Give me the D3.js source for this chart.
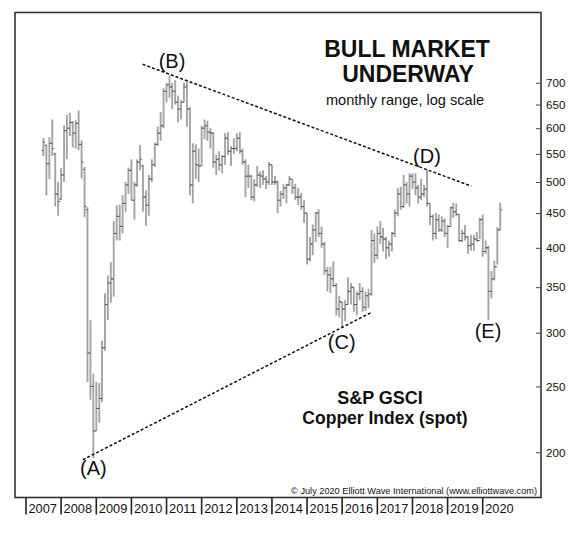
<!DOCTYPE html>
<html><head><meta charset="utf-8">
<script src="https://cdn.jsdelivr.net/npm/d3@7"></script>
<style>
body{margin:0;background:#fff}
svg{display:block}
text{font-family:"Liberation Sans",Arial,Helvetica,sans-serif;fill:#111}
</style>
</head><body>
<svg id="chart" width="586" height="544"></svg>
<script>
// ---- data (S&P GSCI Copper Index, monthly range, from Jul 2007) ----
const firstMonth = "2007-07";
const highs = [
  580,568,582,618,552,500,
  524,606,628,632,614,616,637,576,526,459,313,261,
  254,253,292,343,364,381,438,462,463,478,500,525,
  540,500,540,567,530,486,512,540,571,603,634,687,
  700,718,700,706,670,660,700,703,645,570,568,560,
  605,618,615,600,592,548,555,548,590,592,565,580,
  590,592,560,540,530,512,505,528,518,520,510,535,
  530,510,502,485,496,497,510,505,497,490,482,470,
  450,415,433,452,456,430,408,375,375,382,355,340,
  333,335,362,355,350,345,355,350,345,348,425,420,
  430,438,428,415,410,422,455,490,492,512,500,515,
  515,515,495,505,495,522,465,448,450,448,445,442,
  432,460,466,465,448,425,432,416,418,418,422,443,
  448,410,403,370,383,429,466
];
const lows = [
  546,478,505,546,460,446,
  470,500,540,584,562,560,557,506,444,254,239,196,
  215,221,237,282,313,332,339,410,410,420,452,480,
  470,440,492,520,452,431,446,500,526,565,575,600,
  655,665,640,650,612,618,655,603,478,465,505,500,
  528,578,575,560,525,512,520,515,530,548,528,550,
  555,550,530,475,490,470,468,492,490,495,488,495,
  495,495,450,460,472,465,493,480,470,462,455,435,
  378,382,390,408,415,400,365,345,343,350,318,316,
  305,312,330,330,322,318,335,322,323,326,340,380,
  385,405,395,385,388,395,415,445,455,458,465,460,
  488,478,465,470,475,460,432,410,412,422,422,415,
  400,430,443,445,408,408,410,392,396,396,408,412,
  388,392,313,337,358,378,424
];
const opens = [
  556,566,532,570,550,480,
  472,512,595,600,612,590,610,568,522,455,280,250,
  215,232,240,285,330,355,360,420,445,430,465,495,
  520,470,495,535,528,475,462,505,530,568,590,605,
  680,695,690,680,655,640,655,690,640,495,555,530,
  528,600,605,592,590,535,540,530,545,580,555,560,
  560,580,555,535,510,510,475,495,512,510,505,500,
  530,500,500,470,480,490,495,505,490,475,475,460,
  450,385,405,425,450,420,405,370,365,360,352,325,
  333,325,330,345,350,330,342,345,327,340,342,410,
  390,420,415,412,400,405,420,450,480,460,495,480,
  510,500,490,475,480,488,465,445,420,440,425,438,
  420,430,458,452,448,410,420,415,403,405,412,410,
  440,395,400,345,360,375,425
];
const closes = [
  572,532,570,560,480,468,
  512,595,600,612,590,610,568,535,460,280,250,215,
  232,240,285,330,355,360,420,445,430,465,495,520,
  470,495,535,540,475,462,505,530,568,590,605,680,
  695,690,680,655,640,655,690,640,495,555,530,528,
  600,605,592,590,535,540,530,545,580,555,560,560,
  580,555,535,510,510,475,495,512,510,505,500,530,
  500,500,470,480,490,495,505,490,475,475,460,450,
  385,405,425,450,420,405,370,365,360,352,325,333,
  325,330,345,350,330,342,345,327,340,342,410,390,
  420,415,412,400,405,420,450,480,460,495,480,510,
  500,490,475,480,488,465,445,420,440,425,438,420,
  430,458,452,448,410,420,415,403,405,412,410,440,
  395,400,345,360,375,425,455
];
const yTicks = [200,250,300,350,400,450,500,550,600,650,700];
const years = [2007,2008,2009,2010,2011,2012,2013,2014,2015,2016,2017,2018,2019,2020];
const upperTrend = [{date:"2010-04-28", value:745}, {date:"2019-09-04", value:493}];
const lowerTrend = [{date:"2008-08-14", value:195}, {date:"2016-10-25", value:321}];
const waveLabels = [
  {label:"(A)", date:"2008-12-01", value:196, dx:0, dy:17},
  {label:"(B)", date:"2011-02-01", value:718, dx:2.5, dy:-7},
  {label:"(C)", date:"2016-01-01", value:305, dx:-0.5, dy:21},
  {label:"(D)", date:"2018-06-01", value:522, dx:0, dy:-6},
  {label:"(E)", date:"2020-03-01", value:313, dx:-0.5, dy:18}
];

// ---- layout ----
const svg = d3.select("#chart");
const frame = {left:15, top:12.5, right:541, bottom:497.5};
const parse = d3.timeParse("%Y-%m-%d");
const start = d3.timeParse("%Y-%m")(firstMonth);

const x = d3.scaleTime()
  .domain([new Date(2007,0,1), new Date(2020,0,1)])
  .range([26, 482.7]);
const y = d3.scaleLog()
  .domain([200, 700])
  .range([452.3, 82.7]);

const bars = highs.map((h,i) => ({
  date: d3.timeMonth.offset(start, i),
  high: h, low: lows[i], open: opens[i], close: closes[i]
}));

// frame
svg.append("rect")
  .attr("x", frame.left).attr("y", frame.top)
  .attr("width", frame.right - frame.left)
  .attr("height", frame.bottom - frame.top)
  .attr("fill", "none").attr("stroke", "#333").attr("stroke-width", 1.6);

// bars
const g = svg.append("g");
g.selectAll("line.hl").data(bars).join("line")
  .attr("class","hl")
  .attr("x1", d => x(d.date)).attr("x2", d => x(d.date))
  .attr("y1", d => y(d.high)).attr("y2", d => y(d.low))
  .attr("stroke", "#a4a4a4").attr("stroke-width", 1.9);
g.selectAll("line.op").data(bars).join("line")
  .attr("class","op")
  .attr("x1", d => x(d.date) - 1.8).attr("x2", d => x(d.date))
  .attr("y1", d => y(d.open)).attr("y2", d => y(d.open))
  .attr("stroke", "#555").attr("stroke-width", 1);
g.selectAll("line.cl").data(bars).join("line")
  .attr("class","cl")
  .attr("x1", d => x(d.date)).attr("x2", d => x(d.date) + 1.8)
  .attr("y1", d => y(d.close)).attr("y2", d => y(d.close))
  .attr("stroke", "#555").attr("stroke-width", 1);

// trend lines
const trend = d3.line().x(d => x(parse(d.date))).y(d => y(d.value));
[upperTrend, lowerTrend].forEach(t => {
  svg.append("path").attr("d", trend(t))
    .attr("fill","none").attr("stroke","#111")
    .attr("stroke-width",1.5).attr("stroke-dasharray","3,2");
});

// wave labels
svg.selectAll("text.wave").data(waveLabels).join("text")
  .attr("class","wave")
  .attr("x", d => x(parse(d.date)) + d.dx)
  .attr("y", d => y(d.value) + d.dy)
  .attr("text-anchor","middle")
  .attr("font-size", 20)
  .text(d => d.label);

// right axis
const yAxis = d3.axisRight(y).tickValues(yTicks)
  .tickSizeInner(-5).tickSizeOuter(0).tickPadding(5)
  .tickFormat(d3.format("d"));
const ya = svg.append("g").attr("transform", `translate(${frame.right},0)`).call(yAxis);
ya.select(".domain").remove();
ya.selectAll(".tick line").attr("stroke","#444");
ya.selectAll(".tick text").attr("font-size", 11.6).attr("fill","#333")
  .attr("font-family","'Liberation Sans',Arial,sans-serif");

// year axis
const xa = svg.append("g");
xa.selectAll("line").data(years).join("line")
  .attr("x1", d => x(new Date(d,0,1))).attr("x2", d => x(new Date(d,0,1)))
  .attr("y1", frame.bottom).attr("y2", 514.5)
  .attr("stroke","#222").attr("stroke-width",1.6);
xa.selectAll("text").data(years).join("text")
  .attr("x", d => x(new Date(d,0,1)) + 2.5)
  .attr("y", 513)
  .attr("font-size", 12.8).attr("fill","#333")
  .text(d => d);

// titles
const title = svg.append("g").attr("text-anchor","middle");
title.append("text").attr("x",407).attr("y",56.7).attr("font-size",23).attr("font-weight","bold").text("BULL MARKET");
title.append("text").attr("x",408).attr("y",81.7).attr("font-size",23).attr("font-weight","bold").text("UNDERWAY");
title.append("text").attr("x",405).attr("y",105).attr("font-size",14.6).text("monthly range, log scale");
title.append("text").attr("x",380).attr("y",404).attr("font-size",18).attr("font-weight","bold").text("S&P GSCI");
title.append("text").attr("x",385).attr("y",424).attr("font-size",17.5).attr("font-weight","bold").text("Copper Index (spot)");
svg.append("text").attr("x",537).attr("y",493.5).attr("text-anchor","end")
  .attr("font-size",9.2).attr("fill","#333")
  .text("© July 2020 Elliott Wave International (www.elliottwave.com)");
</script>
</body></html>
